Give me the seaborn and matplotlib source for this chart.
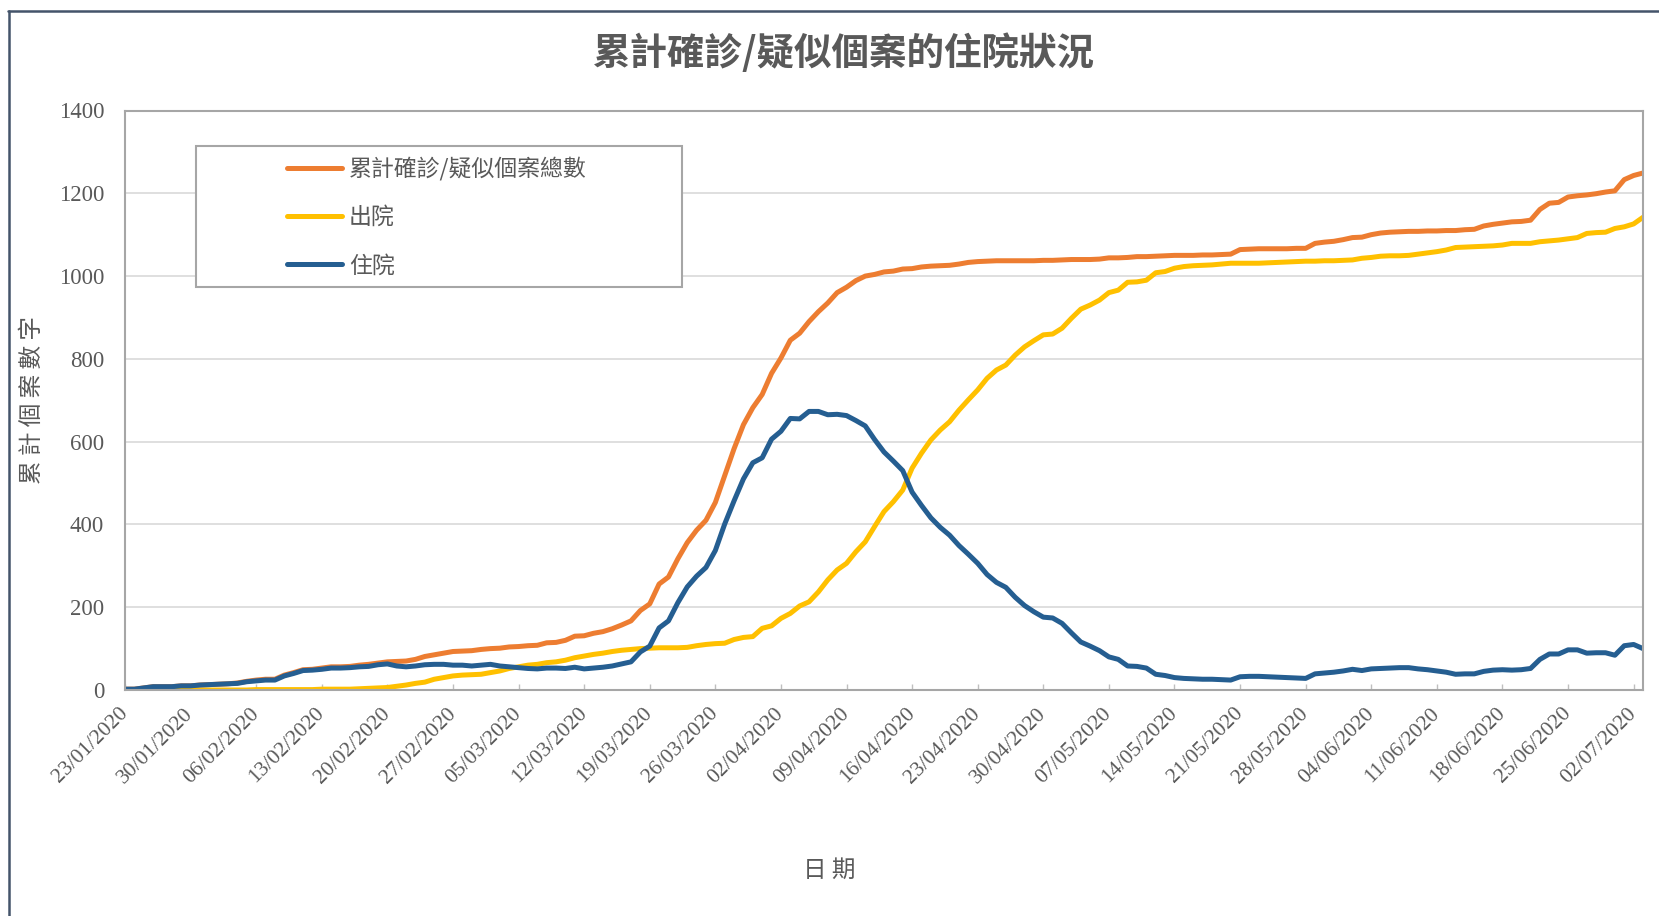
import numpy as np
import pandas as pd
import matplotlib
matplotlib.use('Agg')
import matplotlib.pyplot as plt
from matplotlib.lines import Line2D
from matplotlib.patches import Rectangle
import seaborn as sns

# ---------------- data ----------------
start_date = '2020-01-23'
n_days = 163
series_names = ['累計確診/疑似個案總數', '出院', '住院']
series_colors = ['#ED7D31', '#FFC000', '#255E91']

cumulative = [
    2, 2, 5, 8, 8, 8, 10, 10, 12, 13,
    14, 15, 17, 21, 24, 26, 26, 36, 42, 49,
    50, 53, 56, 56, 57, 60, 62, 65, 68, 69,
    70, 74, 81, 85, 89, 93, 94, 95, 98, 100,
    101, 104, 105, 107, 108, 114, 115, 120, 130, 131,
    137, 141, 148, 157, 167, 192, 208, 256, 273, 317,
    356, 386, 410, 453, 518, 583, 641, 682, 714, 765,
    802, 845, 862, 890, 914, 935, 960, 973, 989, 1000,
    1004, 1010, 1012, 1017, 1018, 1022, 1024, 1025, 1026, 1029,
    1033, 1035, 1036, 1037, 1037, 1037, 1037, 1037, 1038, 1038,
    1039, 1040, 1040, 1040, 1041, 1044, 1044, 1045, 1047, 1047,
    1048, 1049, 1050, 1050, 1050, 1051, 1051, 1052, 1053, 1064,
    1065, 1066, 1066, 1066, 1066, 1067, 1067, 1079, 1082, 1084,
    1088, 1093, 1094, 1100, 1104, 1106, 1107, 1108, 1108, 1109,
    1109, 1110, 1110, 1112, 1113, 1121, 1125, 1128, 1131, 1132,
    1135, 1161, 1176, 1178, 1191, 1194, 1196, 1199, 1203, 1206,
    1233, 1243, 1249,
]

discharged = [
    0, 0, 0, 0, 0, 0, 0, 0, 0, 0,
    0, 0, 0, 0, 1, 1, 1, 1, 1, 1,
    1, 2, 2, 2, 2, 3, 4, 5, 6, 9,
    12, 16, 19, 26, 30, 34, 36, 37, 38, 42,
    46, 52, 56, 60, 62, 66, 68, 72, 78, 82,
    86, 89, 93, 96, 98, 100, 101, 102, 102, 102,
    103, 107, 110, 112, 113, 122, 127, 129, 149, 155,
    173, 185, 203, 213, 237, 266, 290, 306, 334, 358,
    395, 431, 455, 483, 536, 572, 604, 628, 648, 676,
    701, 725, 753, 773, 785, 809, 829, 844, 858, 860,
    874, 898, 920, 930, 942, 960, 966, 985, 986, 990,
    1008, 1011, 1019, 1023, 1025, 1026, 1027, 1029, 1031, 1031,
    1031, 1031, 1032, 1033, 1034, 1035, 1036, 1036, 1037, 1037,
    1038, 1039, 1043, 1045, 1048, 1049, 1049, 1050, 1053, 1056,
    1059, 1063, 1069, 1070, 1071, 1072, 1073, 1075, 1079, 1079,
    1079, 1083, 1085, 1087, 1090, 1093, 1103, 1105, 1106, 1115,
    1119, 1126, 1142,
]

hospitalised = [
    2, 2, 5, 8, 8, 8, 10, 10, 12, 13,
    14, 15, 16, 20, 22, 24, 24, 34, 40, 47,
    48, 50, 53, 53, 54, 56, 57, 61, 63, 58,
    56, 58, 61, 62, 62, 60, 60, 58, 60, 62,
    58, 56, 54, 52, 51, 53, 53, 52, 55, 51,
    53, 55, 58, 63, 68, 92, 106, 150, 167, 211,
    249, 275, 296, 337, 401, 457, 510, 549, 561, 606,
    625, 656, 655, 673, 673, 665, 666, 663, 651, 638,
    605, 575, 553, 530, 478, 446, 416, 393, 374, 349,
    328, 306, 279, 260, 248, 224, 204, 189, 176, 174,
    161, 138, 116, 106, 95, 80, 74, 58, 57, 53,
    38, 35, 30, 28, 27, 26, 26, 25, 24, 32,
    33, 33, 32, 31, 30, 29, 28, 39, 41, 43,
    46, 50, 47, 51, 52, 53, 54, 54, 51, 49,
    46, 43, 38, 39, 39, 45, 48, 49, 48, 49,
    52, 74, 87, 87, 97, 97, 89, 90, 90, 84,
    107, 110, 100,
]

title_text = '累計確診/疑似個案的住院狀況'
ylabel_text = '累 計 個 案 數 字'
xlabel_text = '日 期'
y_ticks = [0, 200, 400, 600, 800, 1000, 1200, 1400]

# ---------------- build table ----------------
dates = pd.date_range(start_date, periods=n_days, freq='D')
df = pd.concat(
    [pd.DataFrame({'date': dates, 'value': vals, 'series': name})
     for name, vals in zip(series_names, [cumulative, discharged, hospitalised])],
    ignore_index=True)

# ---------------- style ----------------
sns.set_theme(style='white')
plt.rcParams['font.family'] = ['Liberation Serif', 'Noto Sans CJK TC']
cjk = ['Noto Sans CJK TC', 'DejaVu Sans']
text_grey = '#595959'

W, H = 1659, 916
fig = plt.figure(figsize=(W / 100, H / 100), dpi=100)
ax_l, ax_r, ax_t, ax_b = 125, 1643, 110.5, 690
ax = fig.add_axes([ax_l / W, 1 - ax_b / H, (ax_r - ax_l) / W, (ax_b - ax_t) / H])

sns.lineplot(data=df, x='date', y='value', hue='series', hue_order=series_names,
             palette=series_colors, linewidth=3.6, ax=ax, legend=False,
             solid_capstyle='round', solid_joinstyle='round')

ax.set_xlim(dates[0], dates[-1])
ax.set_ylim(0, 1400)
ax.set_yticks(y_ticks)
ax.set_yticklabels([str(v) for v in y_ticks])
ax.set_xticks(dates[::7])
ax.set_xticklabels([d.strftime('%d/%m/%Y') for d in dates[::7]])
ax.set_xlabel('')
ax.set_ylabel('')

ax.grid(axis='y', color='#D9D9D9', linewidth=1.2)
ax.grid(axis='x', visible=False)
ax.set_axisbelow(True)
for s in ax.spines.values():
    s.set_visible(True)
    s.set_color('#A6A6A6')
    s.set_linewidth(1.5)

ax.tick_params(axis='y', length=0, pad=15, labelsize=16.5, labelcolor=text_grey)
ax.tick_params(axis='x', direction='in', length=4, width=1, color='#BFBFBF',
               pad=15, labelsize=15.5, labelcolor=text_grey, bottom=True)
for lbl in ax.get_xticklabels():
    lbl.set_rotation(45)
    lbl.set_ha('right')
    lbl.set_va('center')
    lbl.set_rotation_mode('anchor')

# legend frame + frameless legend
def ax_x(px):
    return (px - ax_l) / (ax_r - ax_l)

def ax_y(py):
    return (ax_b - py) / (ax_b - ax_t)

ax.add_patch(Rectangle((ax_x(196), ax_y(287)), ax_x(682) - ax_x(196), ax_y(146) - ax_y(287),
                       transform=ax.transAxes, facecolor='white', edgecolor='#A6A6A6',
                       linewidth=1.5, zorder=5))
handles = [Line2D([0], [0], color=c, linewidth=3.6, solid_capstyle='round') for c in series_colors]
leg = ax.legend(handles, series_names, loc='upper left',
                bbox_to_anchor=(ax_x(287), ax_y(157)), frameon=False,
                borderpad=0, borderaxespad=0, handlelength=2.4, handletextpad=0.3,
                labelspacing=1.1, prop={'family': cjk, 'size': 16.5})
leg.set_zorder(6)
for t in leg.get_texts():
    t.set_color(text_grey)

# titles / labels
fig.text(844 / W, 1 - 53 / H, title_text, ha='center', va='center', fontsize=27,
         fontweight='bold', color=text_grey, family=cjk)
fig.text(32 / W, 1 - 400 / H, ylabel_text, ha='center', va='center', rotation=90,
         fontsize=17, color=text_grey, family=cjk)
fig.text(829 / W, 1 - 870 / H, xlabel_text, ha='center', va='center',
         fontsize=17, color=text_grey, family=cjk)

# outer frame lines of the chart object
fig.add_artist(Line2D([8 / W, 1], [1 - 11 / H, 1 - 11 / H], transform=fig.transFigure,
                      color='#44546A', linewidth=1.8))
fig.add_artist(Line2D([8.5 / W, 8.5 / W], [0, 1 - 11 / H], transform=fig.transFigure,
                      color='#44546A', linewidth=1.8))

fig.savefig('out.png', dpi=100)
